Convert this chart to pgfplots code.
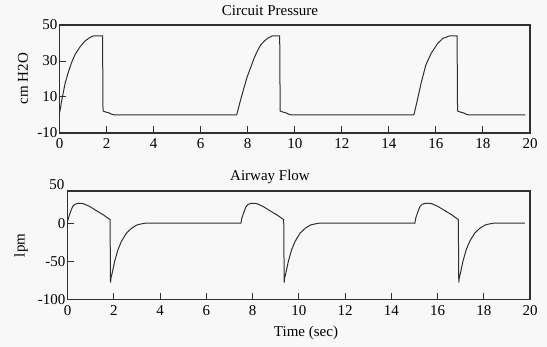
\documentclass[border=0pt]{standalone}
\usepackage{fontspec}
\setmainfont{Liberation Serif}
\usepackage{pgfplots}
\pgfplotsset{compat=1.18}
\definecolor{bg}{RGB}{248,248,248}
\definecolor{ln}{RGB}{48,48,48}
\begin{document}
\begin{tikzpicture}
\fill[bg] (0bp,0bp) rectangle (547bp,347bp);
\useasboundingbox (0bp,0bp) rectangle (547bp,347bp);
\pgfplotsset{
  myax/.style={
    scale only axis, anchor=south west,
    xmin=0, xmax=20, xtick={0,2,...,20},
    tick align=inside, xtick pos=bottom, ytick pos=left,
    axis line style={ln, line width=1.2bp},
    tick style={ln, line width=1bp},
    major tick length=6.5bp,
    /pgf/number format/assume math mode=true,
    tick label style={font=\fontsize{15bp}{18bp}\selectfont, text=black},
    xticklabel style={yshift=-2.5bp},
    yticklabel style={xshift=1.5bp},
    axis background/.style={fill=bg},
  }
}
% ---------- Circuit Pressure ----------
\begin{axis}[myax, at={(59.5bp,214bp)}, width=470.5bp, height=108bp,
  ymin=-10, ymax=50, ytick={-10,10,30,50}]
\addplot[ln, line width=1bp, mark=none] coordinates {
(0,1) (0.03,3) (0.1,8.5) (0.17,13) (0.24,17.7) (0.38,24) (0.53,29.7) (0.67,33.8) (0.88,38) (1.1,41.3) (1.31,43.2) (1.45,44) (1.83,44) (1.85,2.2) (2.0,1.5) (2.1,1.2) (2.2,0.5) (2.35,0) (7.53,0)
(7.58,2.5) (7.7,8.5) (7.84,15) (7.98,21.3) (8.13,26.5) (8.27,31.5) (8.41,35.5) (8.55,38.9) (8.7,41) (8.84,42.6) (8.98,43.5) (9.05,44) (9.36,44) (9.38,2.2) (9.53,1.5) (9.63,1.2) (9.73,0.5) (9.88,0) (15.06,0)
(15.11,2.5) (15.23,9.3) (15.37,17.6) (15.57,27.7) (15.8,34.3) (16.08,39.8) (16.3,42.6) (16.5,43.5) (16.58,44) (16.9,44) (16.92,2.2) (17.07,1.5) (17.17,1.2) (17.27,0.5) (17.42,0) (19.8,0)
};
\end{axis}
% ---------- Airway Flow ----------
\begin{axis}[myax, at={(67.5bp,47.5bp)}, width=462.5bp, height=108.5bp,
  ymin=-100, ymax=42, ytick={-100,-50,0}]
\addplot[ln, line width=1bp, mark=none] coordinates {
(0,2) (0.04,6.5) (0.11,13) (0.22,21.6) (0.32,24.6) (0.47,26) (0.68,25.5) (0.97,21.6) (1.26,16) (1.55,10.8) (1.84,4.5) (1.86,-78) (1.88,-72) (1.95,-63) (2.04,-50) (2.18,-35) (2.33,-24) (2.55,-13) (2.78,-6.5) (3.0,-2.5) (3.2,-1) (3.4,0) (7.5,0)
(7.54,6.5) (7.61,13) (7.72,21.6) (7.82,24.6) (7.97,26) (8.18,25.5) (8.47,21.6) (8.76,16) (9.05,10.8) (9.35,4.5) (9.37,-78) (9.39,-72) (9.46,-63) (9.55,-50) (9.69,-35) (9.84,-24) (10.06,-13) (10.29,-6.5) (10.51,-2.5) (10.71,-1) (10.91,0) (15.02,0)
(15.06,6.5) (15.13,13) (15.24,21.6) (15.34,24.6) (15.49,26) (15.75,25.5) (16.03,21.6) (16.33,16) (16.62,10.8) (16.9,4.5) (16.92,-78) (16.94,-72) (17.01,-63) (17.1,-50) (17.24,-35) (17.39,-24) (17.61,-13) (17.84,-6.5) (18.06,-2.5) (18.26,-1) (18.46,0) (19.78,0)
};
\end{axis}
% titles and labels
\node[font=\fontsize{15bp}{18bp}\selectfont] at (270bp,336bp) {Circuit Pressure};
\node[font=\fontsize{15bp}{18bp}\selectfont] at (270bp,170.5bp) {Airway Flow};
\node[font=\fontsize{15bp}{18bp}\selectfont] at (306bp,14bp) {Time (sec)};
\node[font=\fontsize{15bp}{18bp}\selectfont, rotate=90] at (23bp,268.5bp) {cm H2O};
\node[font=\fontsize{15bp}{18bp}\selectfont, rotate=90] at (21bp,101.5bp) {lpm};
\node[font=\fontsize{15bp}{18bp}\selectfont, anchor=east, inner sep=0pt] at (64.5bp,162bp) {50};
\end{tikzpicture}
\end{document}
